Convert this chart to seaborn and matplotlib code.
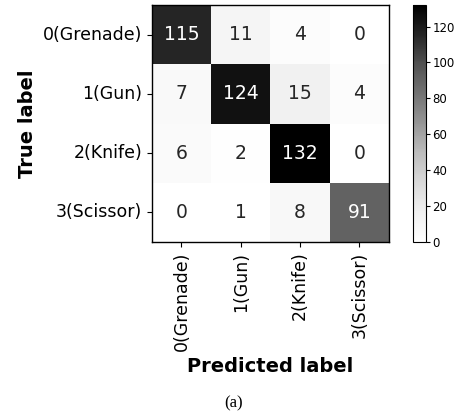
import numpy as np
import pandas as pd
import matplotlib
matplotlib.use("Agg")
import matplotlib.pyplot as plt
import seaborn as sns

classes = ["0(Grenade)", "1(Gun)", "2(Knife)", "3(Scissor)"]
row_grenade = [115, 11, 4, 0]
row_gun = [7, 124, 15, 4]
row_knife = [6, 2, 132, 0]
row_scissor = [0, 1, 8, 91]

cm = pd.DataFrame([row_grenade, row_gun, row_knife, row_scissor],
                  index=classes, columns=classes)

plt.rcParams['font.family'] = ['DejaVu Sans']

fig = plt.figure(figsize=(4.56, 4.19), dpi=100)
ax = fig.add_axes([0.333, 0.4224, 0.520, 0.5656])
cax = fig.add_axes([0.906, 0.4224, 0.0285, 0.5656])

sns.heatmap(cm, ax=ax, cbar_ax=cax, cmap="Greys", vmin=0, vmax=cm.values.max(),
            annot=True, fmt="d", annot_kws={"fontsize": 13.5}, square=False,
            cbar_kws={"ticks": [0, 20, 40, 60, 80, 100, 120]})

for sp in ax.spines.values():
    sp.set_visible(True)
    sp.set_linewidth(1.0)
    sp.set_color("black")
cb = ax.collections[0].colorbar
cb.outline.set_linewidth(0.8)
cb.outline.set_edgecolor("black")
cb.ax.tick_params(labelsize=8.5, length=3, width=0.8, pad=1.5)

ax.tick_params(axis="both", labelsize=12.5, length=3.5, width=0.8)
ax.set_yticklabels(classes, rotation=0)
ax.set_xticklabels(classes, rotation=90)
ax.set_xlabel("Predicted label", fontsize=14, fontweight="bold")
ax.set_ylabel("True label", fontsize=14, fontweight="bold")

fig.text(0.512, 0.018, "(a)", family="Liberation Serif", fontsize=12,
         ha="center", va="bottom")

fig.savefig("out.png", dpi=100)
